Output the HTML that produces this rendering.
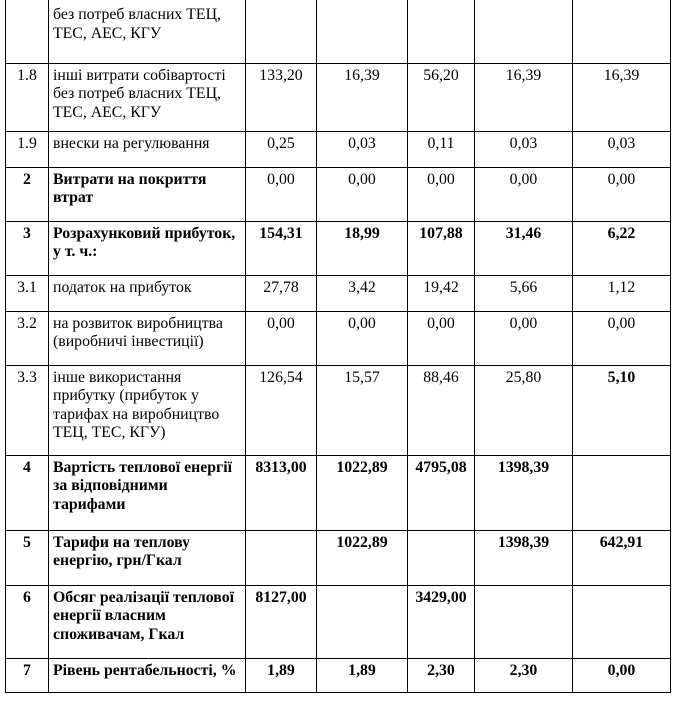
<!DOCTYPE html>
<html><head><meta charset="utf-8"><style>
body{margin:0;background:#fff;width:673px;height:704px;overflow:hidden;font-family:"Liberation Serif",serif;font-size:15.8px;color:#000}
table{position:absolute;left:5px;top:-1px;border-collapse:collapse;table-layout:fixed}
td{border:1px solid #000;vertical-align:top;padding:3px 2px 0 2px;line-height:18.5px;box-sizing:border-box;white-space:nowrap;overflow:hidden}
td.n{text-align:center;padding-left:0;padding-right:0}
tr.b td{font-weight:bold}
td.t{padding-left:4px}
</style></head><body>
<table>
<colgroup><col style="width:43px"><col style="width:197px"><col style="width:71px"><col style="width:91px"><col style="width:67px"><col style="width:98px"><col style="width:98px"></colgroup>
<tr style="height:64px"><td style="border-top:none"></td><td class="t" style="border-top:none;padding-top:7px">без потреб власних ТЕЦ,<br>ТЕС, АЕС, КГУ</td><td style="border-top:none"></td><td style="border-top:none"></td><td style="border-top:none"></td><td style="border-top:none"></td><td style="border-top:none"></td></tr>
<tr style="height:68px"><td class="n">1.8</td><td class="t">інші витрати собівартості<br>без потреб власних ТЕЦ,<br>ТЕС, АЕС, КГУ</td><td class="n">133,20</td><td class="n">16,39</td><td class="n">56,20</td><td class="n">16,39</td><td class="n">16,39</td></tr>
<tr style="height:36px"><td class="n">1.9</td><td class="t">внески на регулювання</td><td class="n">0,25</td><td class="n">0,03</td><td class="n">0,11</td><td class="n">0,03</td><td class="n">0,03</td></tr>
<tr style="height:54px"><td class="n"><b>2</b></td><td class="t"><b>Витрати на покриття<br>втрат</b></td><td class="n">0,00</td><td class="n">0,00</td><td class="n">0,00</td><td class="n">0,00</td><td class="n">0,00</td></tr>
<tr class="b" style="height:54px"><td class="n">3</td><td class="t">Розрахунковий прибуток,<br>у т. ч.:</td><td class="n">154,31</td><td class="n">18,99</td><td class="n">107,88</td><td class="n">31,46</td><td class="n">6,22</td></tr>
<tr style="height:36px"><td class="n">3.1</td><td class="t">податок на прибуток</td><td class="n">27,78</td><td class="n">3,42</td><td class="n">19,42</td><td class="n">5,66</td><td class="n">1,12</td></tr>
<tr style="height:54px"><td class="n">3.2</td><td class="t">на розвиток виробництва<br>(виробничі інвестиції)</td><td class="n">0,00</td><td class="n">0,00</td><td class="n">0,00</td><td class="n">0,00</td><td class="n">0,00</td></tr>
<tr style="height:90px"><td class="n">3.3</td><td class="t">інше використання<br>прибутку (прибуток у<br>тарифах на виробництво<br>ТЕЦ, ТЕС, КГУ)</td><td class="n">126,54</td><td class="n">15,57</td><td class="n">88,46</td><td class="n">25,80</td><td class="n"><b>5,10</b></td></tr>
<tr class="b" style="height:75px"><td class="n">4</td><td class="t">Вартість теплової енергії<br>за відповідними<br>тарифами</td><td class="n">8313,00</td><td class="n">1022,89</td><td class="n">4795,08</td><td class="n">1398,39</td><td></td></tr>
<tr class="b" style="height:55px"><td class="n">5</td><td class="t">Тарифи на теплову<br>енергію, грн/Гкал</td><td></td><td class="n">1022,89</td><td></td><td class="n">1398,39</td><td class="n">642,91</td></tr>
<tr class="b" style="height:73px"><td class="n">6</td><td class="t">Обсяг реалізації теплової<br>енергії власним<br>споживачам, Гкал</td><td class="n">8127,00</td><td></td><td class="n">3429,00</td><td></td><td></td></tr>
<tr class="b" style="height:34px"><td class="n">7</td><td class="t">Рівень рентабельності, %</td><td class="n">1,89</td><td class="n">1,89</td><td class="n">2,30</td><td class="n">2,30</td><td class="n">0,00</td></tr>
</table>
</body></html>
